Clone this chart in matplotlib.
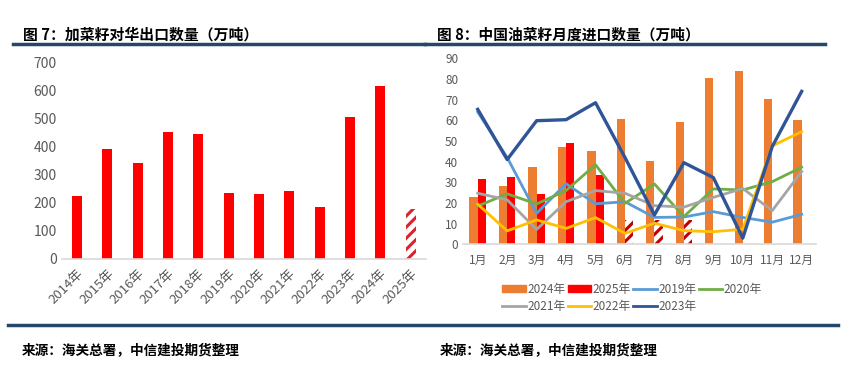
import numpy as np
import matplotlib
matplotlib.use('Agg')
import matplotlib.pyplot as plt
from matplotlib.lines import Line2D
from matplotlib.patches import Patch

plt.rcParams['font.family'] = ['Noto Sans CJK SC', 'DejaVu Sans']
plt.rcParams['hatch.linewidth'] = 2.2

# 图7 数据
years = ['2014年', '2015年', '2016年', '2017年', '2018年', '2019年',
         '2020年', '2021年', '2022年', '2023年', '2024年', '2025年']
export = [224, 391, 342, 452, 446, 237, 232, 243, 186, 506, 616, 180]

# 图8 数据
months = ['1月', '2月', '3月', '4月', '5月', '6月',
          '7月', '8月', '9月', '10月', '11月', '12月']
y2024 = [23, 28, 37.5, 47, 45, 60.5, 40.3, 59, 80.5, 84, 70.5, 60]
y2025 = [31.8, 32.8, 24.3, 48.8, 33.3, 12, 12, 12]
y2019 = [64, 42, 15, 29.3, 19.6, 20.6, 13, 13.2, 15.8, 13, 10.7, 14.5]
y2020 = [18.5, 24.4, 19.5, 26, 38.5, 19.8, 29.2, 13.4, 26.8, 26.3, 30.3, 37.3]
y2021 = [24.7, 21.5, 7.2, 20.6, 26, 24.7, 18.7, 18, 22.7, 27, 16.3, 35.2]
y2022 = [19.4, 6.5, 11.8, 7.7, 12.9, 5.3, 10.2, 6.6, 6.1, 7.3, 47.6, 54.5]
y2023 = [65.3, 41, 59.8, 60.3, 68.5, 42, 14.2, 39.5, 32.3, 3, 47.3, 74]
n_actual = 5  # 2025年 6-8月为预估(斜线)

navy = '#25476A'
grey = '#595959'
axis_c = '#D9D9D9'

fig = plt.figure(figsize=(8.49, 3.69), dpi=100)

# ---- 左图 ----
ax1 = fig.add_axes([61.8 / 849, 1 - 259 / 369, 364 / 849, (259 - 62.7) / 369])
x1 = np.arange(len(years))
ax1.bar(x1[:-1], export[:-1], width=0.33, color='#FF0000')
ax1.bar(x1[-1], export[-1], width=0.33, color='white', edgecolor='#E0202A',
        hatch='///', linewidth=0)
ax1.set_xlim(-0.5, len(years) - 0.5)
ax1.set_ylim(0, 700)
ax1.set_yticks(range(0, 701, 100))
ax1.set_xticks(x1)
ax1.set_xticklabels(years, rotation=45, ha='right', rotation_mode='anchor')
ax1.tick_params(axis='both', length=0, colors=grey, labelsize=10)
ax1.tick_params(axis='x', labelsize=9.5, pad=6)
for s in ['top', 'right', 'left']:
    ax1.spines[s].set_visible(False)
ax1.spines['bottom'].set_color(axis_c)
ax1.spines['bottom'].set_linewidth(1.2)

# ---- 右图 ----
ax2 = fig.add_axes([463 / 849, 1 - 244.3 / 369, 353.4 / 849, (244.3 - 58.3) / 369])
x2 = np.arange(len(months))
w = 0.28
ax2.bar(x2 - w / 2, y2024, width=w, color='#ED7D31')
ax2.bar(x2[:n_actual] + w / 2, y2025[:n_actual], width=w, color='#FF0000')
ax2.bar(x2[n_actual:len(y2025)] + w / 2, y2025[n_actual:], width=w, color='white',
        edgecolor='#C00000', hatch='///', linewidth=0)
ax2.plot(x2, y2019, color='#5B9BD5', lw=2)
ax2.plot(x2, y2020, color='#70AD47', lw=2)
ax2.plot(x2, y2021, color='#A5A5A5', lw=2)
ax2.plot(x2, y2022, color='#FFC000', lw=2)
ax2.plot(x2, y2023, color='#2F5597', lw=2.4)
ax2.set_xlim(-0.5, len(months) - 0.5)
ax2.set_ylim(0, 90)
ax2.set_yticks(range(0, 91, 10))
ax2.set_xticks(x2)
ax2.set_xticklabels(months)
ax2.tick_params(axis='both', length=0, colors=grey, labelsize=8.5)
ax2.tick_params(axis='x', pad=7)
for s in ['top', 'right', 'left']:
    ax2.spines[s].set_visible(False)
ax2.spines['bottom'].set_color(axis_c)
ax2.spines['bottom'].set_linewidth(1.2)

handles = [Patch(color='#ED7D31'), Line2D([], [], color='#A5A5A5', lw=2),
           Patch(color='#FF0000'), Line2D([], [], color='#FFC000', lw=2),
           Line2D([], [], color='#5B9BD5', lw=2), Line2D([], [], color='#2F5597', lw=2),
           Line2D([], [], color='#70AD47', lw=2)]
labels = ['2024年', '2021年', '2025年', '2022年', '2019年', '2023年', '2020年']
leg = fig.legend(handles, labels, ncol=4, loc='center', bbox_to_anchor=(632 / 849, 1 - 298 / 369),
                 frameon=False, fontsize=8.5, handlelength=2.0, handleheight=0.6,
                 handletextpad=0.1, columnspacing=0.2, labelspacing=0.4)
for t in leg.get_texts():
    t.set_color(grey)

# ---- 标题与分隔线 ----
fig.text(23 / 849, 1 - 35 / 369, '图 7：加菜籽对华出口数量（万吨）', fontsize=10.7,
         fontweight='bold', va='center', ha='left', color='black')
fig.text(437 / 849, 1 - 35 / 369, '图 8：中国油菜籽月度进口数量（万吨）', fontsize=10.6,
         fontweight='bold', va='center', ha='left', color='black')
fig.add_artist(Line2D([13 / 849, 425 / 849], [1 - 44.3 / 369] * 2, color=navy, lw=2.5))
fig.add_artist(Line2D([425 / 849, 825 / 849], [1 - 44.3 / 369] * 2, color=navy, lw=2.5))
fig.add_artist(Line2D([8 / 849, 838 / 849], [1 - 325 / 369] * 2, color=navy, lw=2.5))

fig.text(22 / 849, 1 - 350 / 369, '来源：海关总署，中信建投期货整理', fontsize=9.8,
         fontweight='bold', style='italic', va='center', ha='left')
fig.text(440 / 849, 1 - 350 / 369, '来源：海关总署，中信建投期货整理', fontsize=9.8,
         fontweight='bold', style='italic', va='center', ha='left')

fig.savefig('out.png', dpi=100)
